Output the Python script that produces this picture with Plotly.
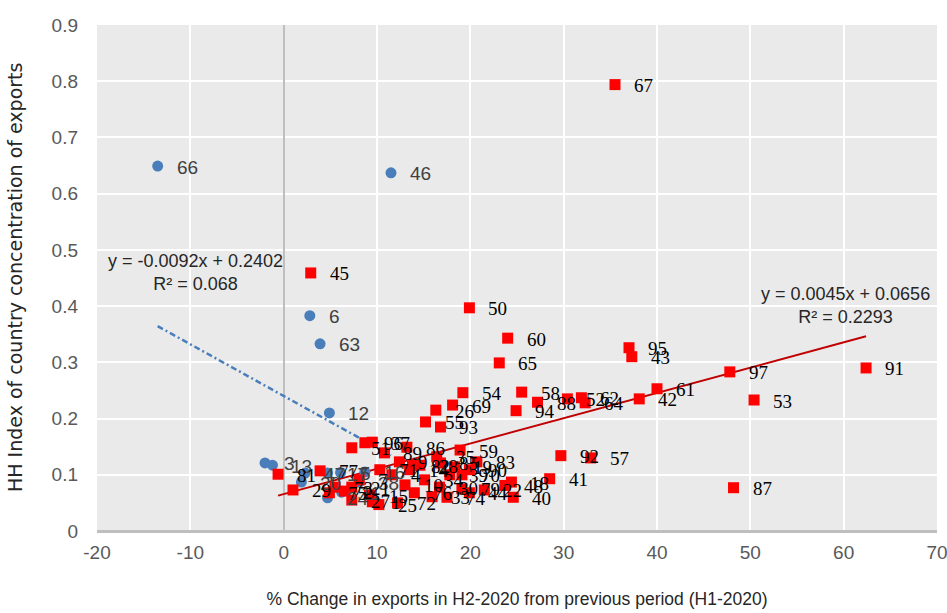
import plotly.graph_objects as go

# ---- Blue group (negative trend) ----
blue_labels = ["66", "46", "6", "63", "12", "3", "13", "20", "47", "17", "5", "24", "11", "16", "38"]
blue_x = [-13.5, 11.5, 2.8, 3.9, 4.9, -2.0, -1.2, 1.9, 2.3, 4.7, 6.1, 4.7, 6.2, 8.7, 8.1]
blue_y = [0.649, 0.637, 0.383, 0.333, 0.210, 0.121, 0.117, 0.087, 0.103, 0.103, 0.104, 0.059, 0.069, 0.105, 0.087]

# ---- Red group (positive trend) ----
red_labels = ["67", "45", "50", "60", "65", "95", "43", "54", "58", "26", "69", "55", "93", "94", "88",
              "52", "62", "64", "42", "61", "97", "53", "91", "87", "57", "92", "41", "40", "48", "18",
              "81", "29", "51", "96", "37", "89", "86", "35", "59", "85", "83", "90", "70", "82",
              "27", "21", "2", "7", "15", "1", "25", "4", "72", "10", "14", "76", "34", "33", "30",
              "39", "74", "19", "79", "44", "22", "28", "9", "71", "73", "75", "77"]
red_x = [35.5, 2.9, 19.9, 24.0, 23.1, 37.0, 37.3, 19.2, 25.5, 16.3, 18.1, 15.2, 16.8, 24.9, 27.2,
         30.4, 31.9, 32.3, 38.1, 40.0, 47.8, 50.4, 62.4, 48.2, 32.9, 29.7, 28.5, 24.6, 23.7, 24.4,
         -0.6, 1.0, 7.3, 8.7, 9.5, 10.8, 13.2, 16.4, 18.9, 16.8, 20.7, 19.9, 19.1, 13.8,
         7.3, 7.3, 6.5, 8.1, 9.2, 9.5, 10.2, 11.6, 12.2, 13.0, 13.5, 14.0, 15.1, 15.9, 16.7,
         17.8, 17.5, 18.3, 19.1, 19.9, 21.5, 14.6, 12.4, 10.3, 5.5, 4.9, 3.9]
red_y = [0.794, 0.459, 0.397, 0.343, 0.299, 0.326, 0.310, 0.246, 0.247, 0.215, 0.224, 0.194, 0.185, 0.214, 0.229,
         0.235, 0.237, 0.228, 0.235, 0.253, 0.283, 0.233, 0.290, 0.077, 0.130, 0.134, 0.093, 0.060, 0.081, 0.087,
         0.101, 0.073, 0.148, 0.157, 0.158, 0.139, 0.149, 0.132, 0.144, 0.121, 0.123, 0.109, 0.100, 0.117,
         0.055, 0.078, 0.071, 0.091, 0.064, 0.052, 0.047, 0.100, 0.050, 0.082, 0.109, 0.068, 0.091, 0.061, 0.078,
         0.100, 0.060, 0.114, 0.075, 0.068, 0.073, 0.117, 0.123, 0.109, 0.078, 0.068, 0.107]

# Trend line coefficients (as printed on the chart)
blue_slope, blue_icpt, blue_r2 = -0.0092, 0.2402, 0.068
red_slope, red_icpt, red_r2 = 0.0045, 0.0656, 0.2293

x_ticks = list(range(-20, 71, 10))
y_ticks = [0, 0.1, 0.2, 0.3, 0.4, 0.5, 0.6, 0.7, 0.8, 0.9]

NARROW = "Liberation Sans Narrow, Arial Narrow, Liberation Sans, sans-serif"
SERIF = "Liberation Serif, Times New Roman, serif"
BLUE = "#4A7EBB"
RED = "#FF0000"

fig = go.Figure()

bx = [min(blue_x), max(blue_x)]
fig.add_trace(go.Scatter(x=bx, y=[blue_slope * v + blue_icpt for v in bx], mode="lines",
                         line=dict(color=BLUE, width=2.5, dash="6px,3px,2px,3px"), hoverinfo="skip"))
rx = [min(red_x), max(red_x)]
fig.add_trace(go.Scatter(x=rx, y=[red_slope * v + red_icpt for v in rx], mode="lines",
                         line=dict(color="#C00000", width=2), hoverinfo="skip"))

fig.add_trace(go.Scatter(x=blue_x, y=blue_y, mode="markers",
                         marker=dict(symbol="circle", size=11, color=BLUE)))
fig.add_trace(go.Scatter(x=red_x, y=red_y, mode="markers",
                         marker=dict(symbol="square", size=11, color=RED)))

annotations = []
for lx, ly, lt in zip(blue_x, blue_y, blue_labels):
    annotations.append(dict(x=lx, y=ly, text=lt, showarrow=False, xanchor="left", yanchor="middle",
                            xshift=17, yshift=-1, font=dict(family=NARROW, size=19, color="#404040")))
for lx, ly, lt in zip(red_x, red_y, red_labels):
    annotations.append(dict(x=lx, y=ly, text=lt, showarrow=False, xanchor="left", yanchor="middle",
                            xshift=17, yshift=-1, font=dict(family=SERIF, size=19, color="#000000")))

annotations.append(dict(x=-9.5, y=0.460, showarrow=False, xanchor="center", yanchor="middle", align="center",
                        text=f"y = {blue_slope:.4f}x + {blue_icpt:.4f}<br>R² = {blue_r2}",
                        font=dict(family=NARROW, size=18, color="#262626")))
annotations.append(dict(x=60.2, y=0.401, showarrow=False, xanchor="center", yanchor="middle", align="center",
                        text=f"y = {red_slope:.4f}x + {red_icpt:.4f}<br>R² = {red_r2}",
                        font=dict(family=NARROW, size=18, color="#262626")))

# y-axis title placed as a rotated paper annotation
annotations.append(dict(x=-0.0976, y=0.5, xref="paper", yref="paper", showarrow=False,
                        xanchor="center", yanchor="middle", textangle=-90,
                        text="HH Index of country concentration of exports",
                        font=dict(family="DejaVu Sans, Verdana, sans-serif", size=19, color="#262626")))

fig.update_layout(
    width=947, height=613,
    margin=dict(l=97, r=10, t=25, b=82),
    plot_bgcolor="#EAEAEA", paper_bgcolor="white",
    showlegend=False,
    annotations=annotations,
    xaxis=dict(range=[-20, 70], tickvals=x_ticks, ticktext=[str(v) for v in x_ticks],
               showgrid=True, gridcolor="white", gridwidth=2,
               zeroline=True, zerolinecolor="#BFBFBF", zerolinewidth=2,
               showline=False, ticks="", ticklabelstandoff=8, ticklabeloverflow="allow",
               automargin=False,
               tickfont=dict(family=NARROW, size=19, color="#595959"),
               title=dict(text="% Change in exports in H2-2020 from previous period (H1-2020)",
                          font=dict(family=NARROW, size=17.5, color="#262626"), standoff=30)),
    yaxis=dict(range=[0, 0.9], tickvals=y_ticks, ticktext=["0"] + [f"{v:.1f}" for v in y_ticks[1:]],
               showgrid=True, gridcolor="white", gridwidth=2,
               zeroline=True, zerolinecolor="#BFBFBF", zerolinewidth=3,
               showline=False, ticks="", ticklabelstandoff=18, automargin=False,
               tickfont=dict(family=NARROW, size=19, color="#595959")),
)

fig.write_html("out.html")
